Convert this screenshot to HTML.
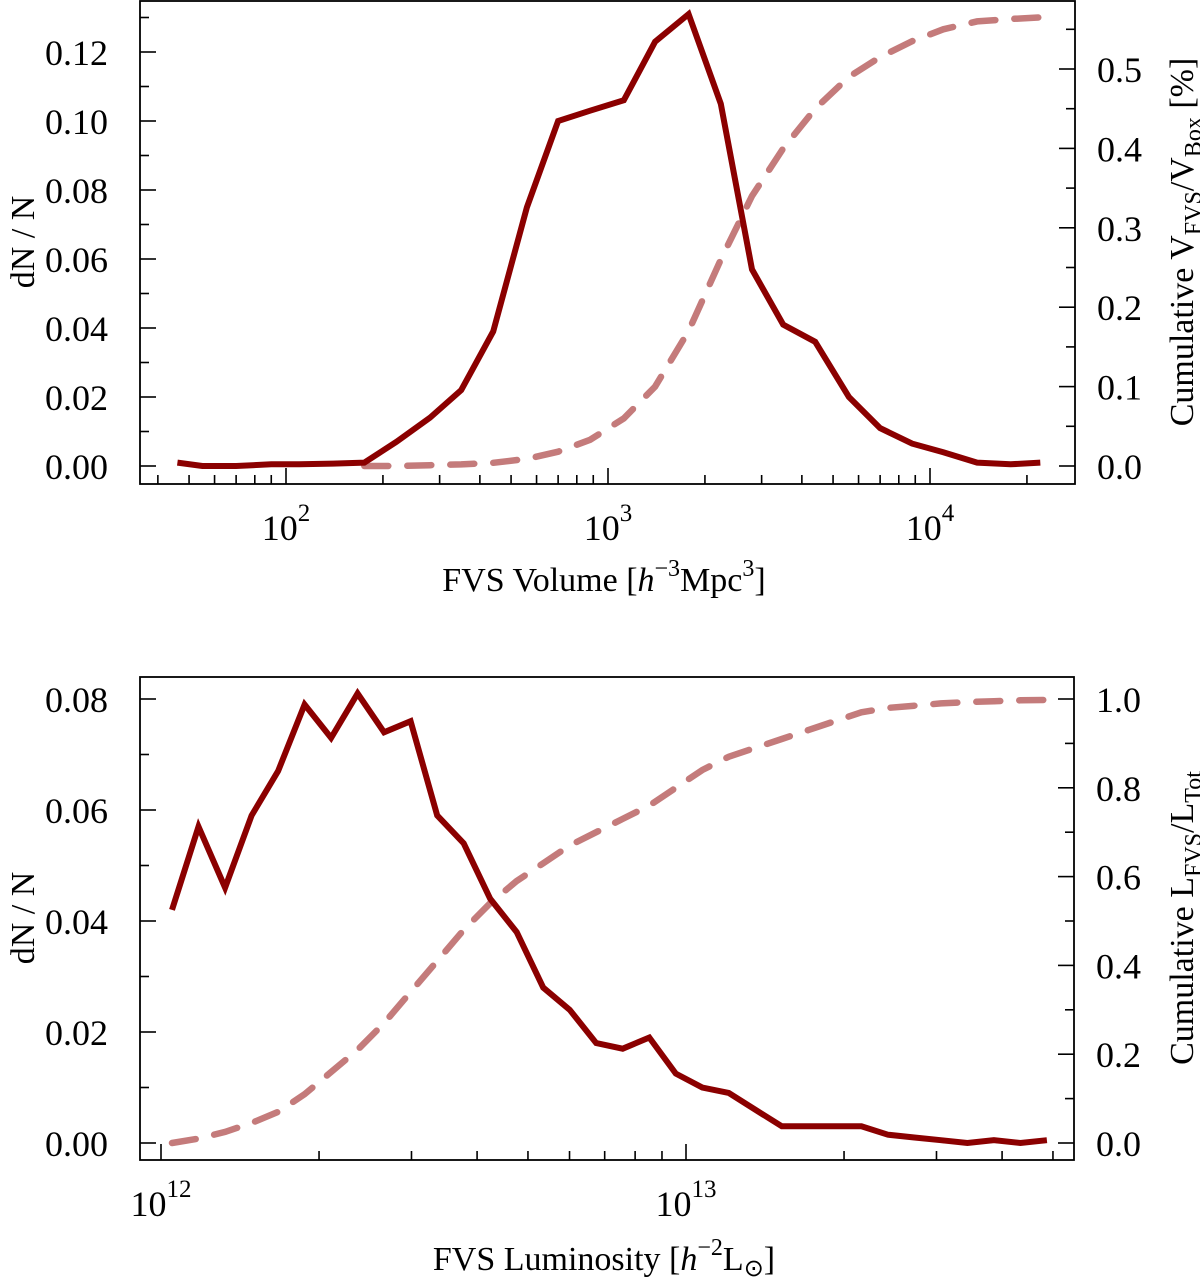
<!DOCTYPE html>
<html><head><meta charset="utf-8">
<style>
html,body{margin:0;padding:0;background:#fff;}
svg text{font-family:"Liberation Serif",serif;fill:#000;}
</style></head>
<body>
<svg id="chart" width="1200" height="1281" viewBox="0 0 1200 1281" xmlns="http://www.w3.org/2000/svg"></svg>
<script>
// ---- Top panel data ----
const topVolumes = [46,55,70,90,110,140,175,220,280,350,440,560,700,880,1120,1400,1780,2240,2800,3500,4400,5600,7000,8800,11000,14000,17800,22000];
const topDN = [0.001,0.0,0.0,0.0005,0.0005,0.0007,0.001,0.007,0.014,0.022,0.039,0.075,0.100,0.103,0.106,0.123,0.131,0.105,0.057,0.041,0.036,0.020,0.011,0.0065,0.004,0.001,0.0005,0.001];
const topCumVolumes = [175,220,280,350,440,560,700,880,1120,1400,1780,2240,2800,3500,4400,5600,7000,8800,11000,14000,17800,22000];
const topCum = [0.0,0.0,0.001,0.002,0.004,0.009,0.018,0.033,0.06,0.10,0.17,0.26,0.34,0.40,0.45,0.49,0.515,0.535,0.55,0.56,0.563,0.565];
const topLeftTicks = ["0.00","0.02","0.04","0.06","0.08","0.10","0.12"];
const topRightTicks = ["0.0","0.1","0.2","0.3","0.4","0.5"];
// ---- Bottom panel data ----
const botLogStart = 12.021, botLogStep = 0.0505;
const botDN = [0.042,0.057,0.046,0.059,0.067,0.079,0.073,0.081,0.074,0.076,0.059,0.054,0.044,0.038,0.028,0.024,0.018,0.017,0.019,0.0125,0.010,0.009,0.006,0.003,0.003,0.003,0.003,0.0015,0.001,0.0005,0.0,0.0005,0.0,0.0005];
const botCum = [0,0.01,0.025,0.045,0.07,0.11,0.16,0.21,0.27,0.34,0.41,0.48,0.54,0.59,0.63,0.67,0.70,0.73,0.76,0.80,0.84,0.87,0.89,0.91,0.93,0.95,0.97,0.98,0.985,0.99,0.993,0.995,0.997,0.998];
const botLeftTicks = ["0.00","0.02","0.04","0.06","0.08"];
const botRightTicks = ["0.0","0.2","0.4","0.6","0.8","1.0"];

const NS="http://www.w3.org/2000/svg";
const svg=document.getElementById('chart');
function mk(tag,attrs,parent){const e=document.createElementNS(NS,tag);for(const k in attrs)e.setAttribute(k,attrs[k]);(parent||svg).appendChild(e);return e;}
function line(g,x1,y1,x2,y2){const l=mk('line',{x1,y1,x2,y2,stroke:'#000','stroke-width':1.6},g);return l;}
function path(g,pts,style,name){const d=pts.map((p,i)=>(i?'L':'M')+p[0].toFixed(1)+' '+p[1].toFixed(1)).join(' ');const p=mk('path',Object.assign({d,fill:'none'},style),g);return p;}

function panel(cfg){
  const g=mk('g',{});
  
  
  const {L,R,T,B}=cfg;
  const xs=v=>cfg.x0+(v-cfg.xDecade0)*cfg.dec;
  const yl=v=>cfg.y0-v/cfg.lStep*cfg.lPx;
  const yr=v=>cfg.y0-v/cfg.rStep*cfg.rPx;
  const fr=mk('rect',{x:L,y:T,width:R-L,height:B-T,fill:'none',stroke:'#000','stroke-width':1.8},g);
  
  const lo=Math.floor((L-cfg.x0)/cfg.dec+cfg.xDecade0), hi=Math.ceil((R-cfg.x0)/cfg.dec+cfg.xDecade0);
  for(let d=lo;d<=hi;d++){for(let m=1;m<10;m++){const x=xs(d+Math.log10(m));if(x<L+1||x>R-1)continue;
    line(g,x,B,x,B-(m===1?16:9));
    if(m===1){const t=mk('text',{x:x,y:B+56,'font-size':36,'text-anchor':'middle'},g);
      
      const a=mk('tspan',{},t);a.textContent='10';const s=mk('tspan',{dy:-19,'font-size':25},t);s.textContent=String(d);}}}
  cfg.leftTicks.forEach((lab,i)=>{const v=i*cfg.lStep,y=yl(v);line(g,L,y,L+16,y);
    const hy=yl(v+cfg.lStep/2); if(hy>T+2) line(g,L,hy,L+9,hy);
    const t=mk('text',{x:L-32,y:y+13,'font-size':36,'text-anchor':'end'},g);t.textContent=lab;
    });
  cfg.rightTicks.forEach((lab,i)=>{const v=i*cfg.rStep,y=yr(v);line(g,R,y,R-16,y);
    const hy=yr(v+cfg.rStep/2); if(hy>T+2) line(g,R,hy,R-9,hy);
    const t=mk('text',{x:R+22,y:y+13,'font-size':36},g);t.textContent=lab;
    });
  path(g,cfg.cum.map(p=>[xs(p[0]),yr(p[1])]),{stroke:'#c47b7b','stroke-width':6.5,'stroke-linecap':'round','stroke-dasharray':'24 19'},'cumulative-line');
  path(g,cfg.dn.map(p=>[xs(p[0]),yl(p[1])]),{stroke:'#8b0000','stroke-width':6,'stroke-linejoin':'miter'},'dn-over-n-line');
  return g;
}

panel({name:'volume-panel',L:140,R:1075,T:1,B:484,x0:286,xDecade0:2,dec:322,y0:466,lStep:0.02,lPx:69,rStep:0.1,rPx:79.4,
  leftTicks:topLeftTicks,rightTicks:topRightTicks,
  dn:topVolumes.map((v,i)=>[Math.log10(v),topDN[i]]),
  cum:topCumVolumes.map((v,i)=>[Math.log10(v),topCum[i]])});
panel({name:'luminosity-panel',L:140,R:1074,T:677,B:1160,x0:686,xDecade0:13,dec:525,y0:1143,lStep:0.02,lPx:111,rStep:0.2,rPx:88.8,
  leftTicks:botLeftTicks,rightTicks:botRightTicks,
  dn:botDN.map((v,i)=>[botLogStart+i*botLogStep,v]),
  cum:botCum.map((v,i)=>[botLogStart+i*botLogStep,v])});
</script>
<svg width="1200" height="1281" style="position:absolute;left:0;top:0">
  <text x="604" y="591" font-size="34" text-anchor="middle">FVS Volume [<tspan font-style="italic">h</tspan><tspan dy="-15" font-size="24">−3</tspan><tspan dy="15">Mpc</tspan><tspan dy="-15" font-size="24">3</tspan><tspan dy="15">]</tspan></text>
  <text transform="translate(34,242) rotate(-90)" font-size="34" text-anchor="middle">dN / N</text>
  <text transform="translate(1193,242) rotate(-90)" font-size="34" text-anchor="middle">Cumulative V<tspan dy="8" font-size="24">FVS</tspan><tspan dy="-8">/V</tspan><tspan dy="8" font-size="24">Box</tspan><tspan dy="-8"> [%]</tspan></text>
  <text x="604" y="1270" font-size="34" text-anchor="middle">FVS Luminosity [<tspan font-style="italic">h</tspan><tspan dy="-15" font-size="24">−2</tspan><tspan dy="15">L</tspan><tspan dy="6" font-size="24">⊙</tspan><tspan dy="-6">]</tspan></text>
  <text transform="translate(34,918) rotate(-90)" font-size="34" text-anchor="middle">dN / N</text>
  <text transform="translate(1193,918) rotate(-90)" font-size="34" text-anchor="middle">Cumulative L<tspan dy="8" font-size="24">FVS</tspan><tspan dy="-8">/L</tspan><tspan dy="8" font-size="24">Tot</tspan></text>
</svg>
</body></html>
